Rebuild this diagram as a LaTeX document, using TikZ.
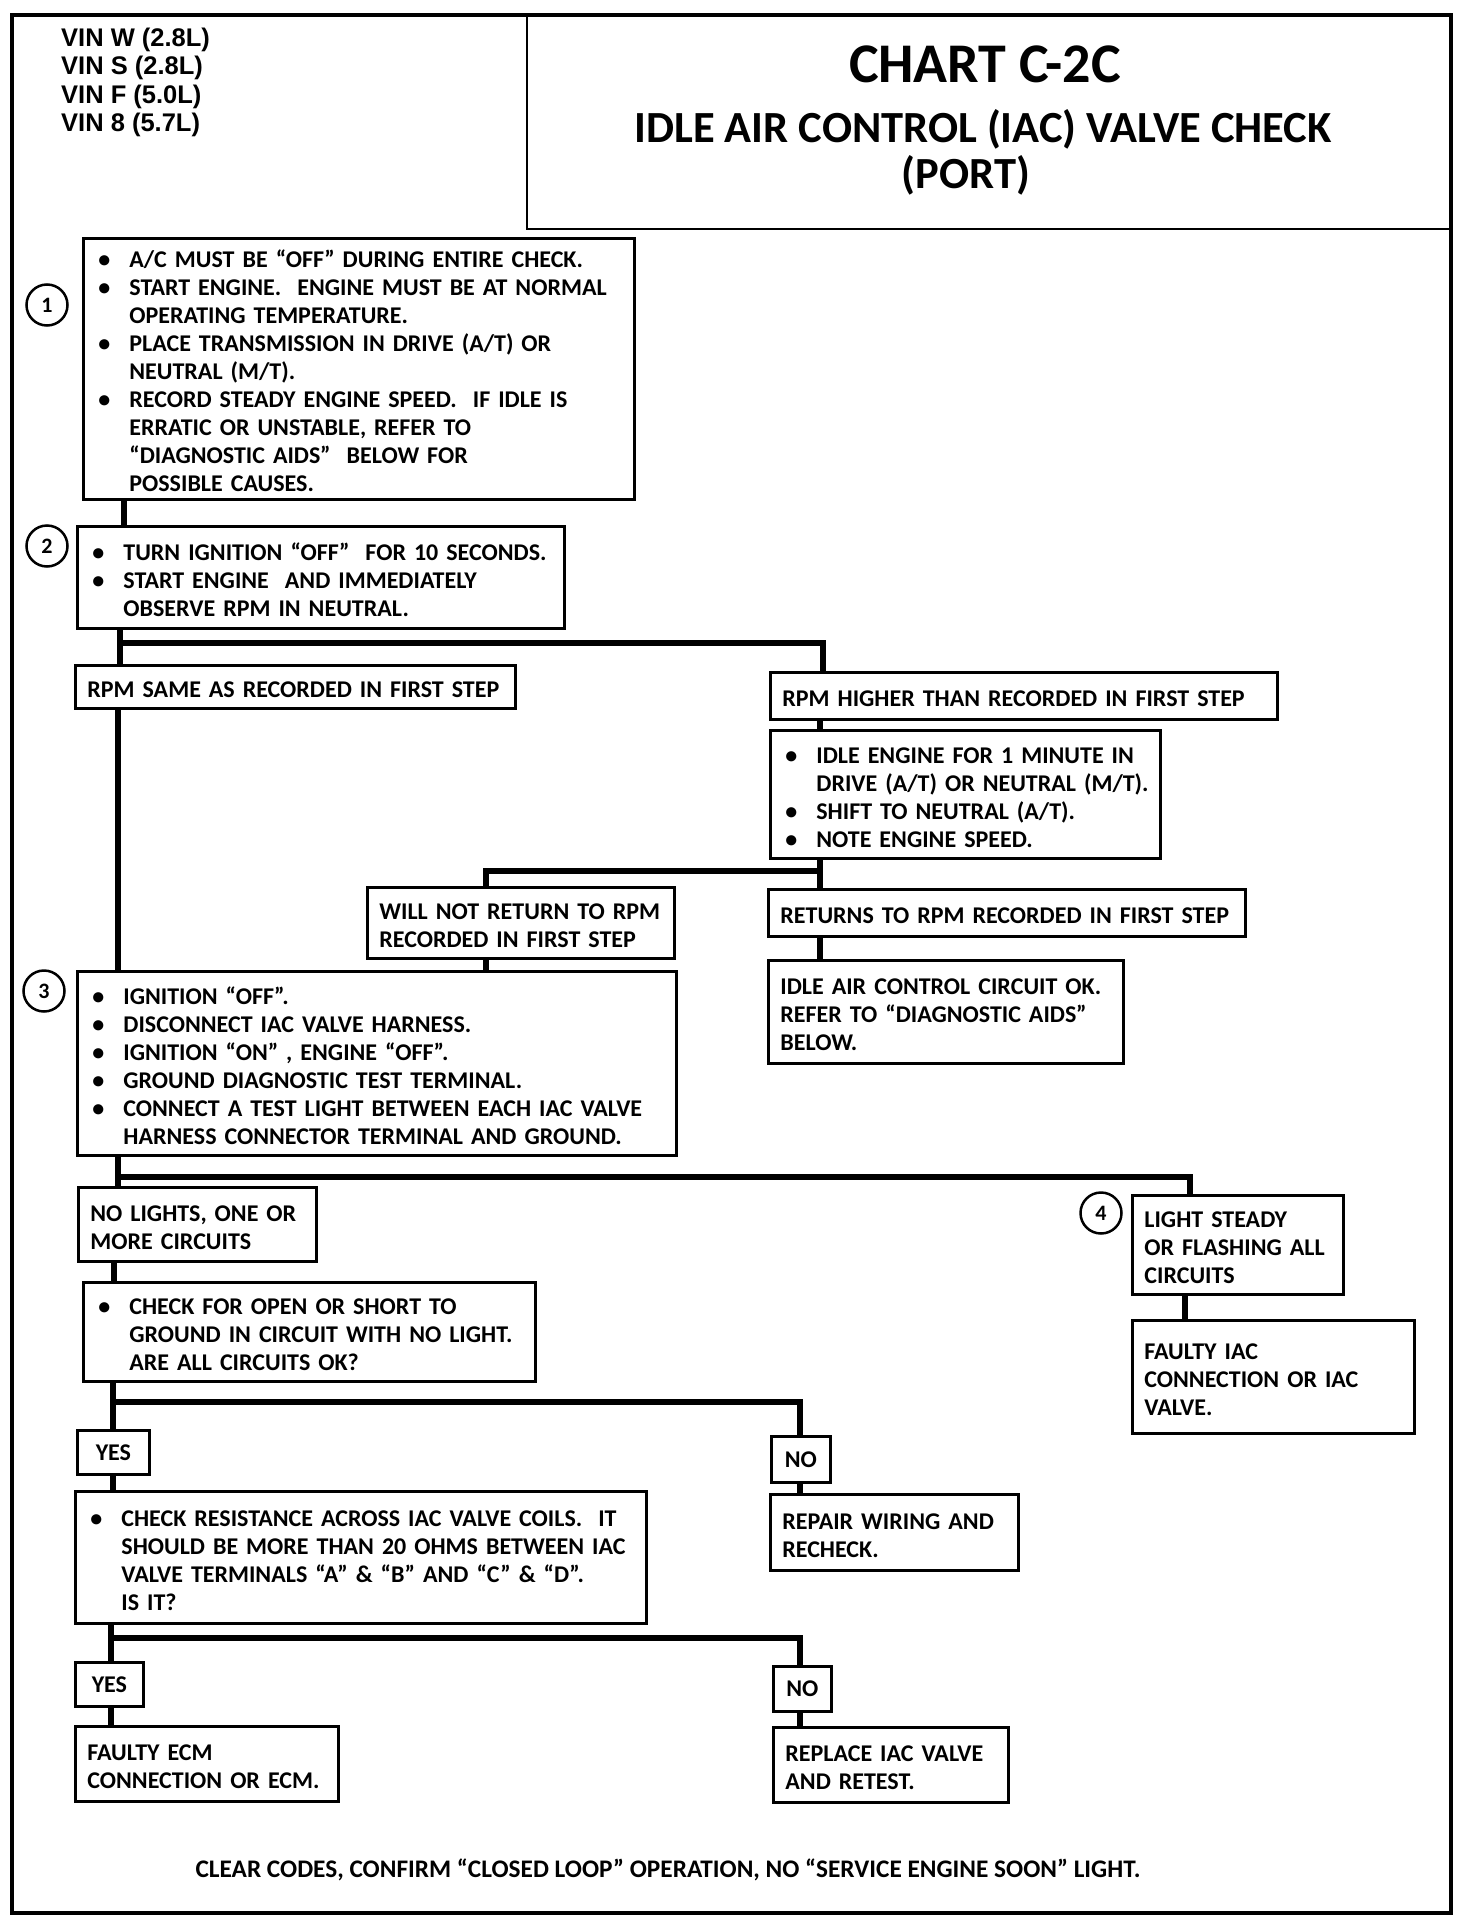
\documentclass[tikz,border=0pt]{standalone}
\usepackage{fontspec}
\setmainfont{Carlito}
\newfontfamily\vinf{Liberation Sans}
\newcommand\bodyf{\bfseries\fontsize{24}{28}\selectfont}
\newcommand\numf{\bfseries\fontsize{22}{24}\selectfont}
\newcommand\bi[1]{\mbox{\makebox[34pt][l]{\hspace{3pt}\textbullet}#1}}
\newcommand\ci[1]{\mbox{\hspace*{34pt}#1}}
\newcommand\lne[1]{\mbox{#1}}
\tikzset{
  box/.style={draw, line width=2.8pt, anchor=north west, inner xsep=12pt, inner ysep=0pt, align=left, font=\bodyf,
    execute at begin node={\rule{0pt}{22pt}}},
  cbox/.style={draw, line width=2.8pt, anchor=north west, inner sep=0pt, align=center, font=\bodyf},
  conn/.style={line width=5.5pt},
  bar/.style={line width=6.5pt, line cap=rect},
  num/.style={draw, circle, line width=2.5pt, minimum size=41pt, inner sep=0pt, font=\numf},
  frame/.style={line width=3.5pt},
}
\begin{document}
\begin{tikzpicture}[x=1pt,y=-1pt]
\useasboundingbox (0,0) rectangle (1472,1924);
% frame and header
\draw[frame] (12,15) rectangle (1451,1913);
\draw[line width=2.8pt] (527,15) -- (527,229) -- (1451,229);
\node[anchor=north west, align=left, inner sep=0pt, font=\vinf\bfseries\fontsize{25.5}{28.3}\selectfont] (vin) at (61,28)
  {VIN W (2.8L)\\VIN S (2.8L)\\VIN F (5.0L)\\VIN 8 (5.7L)};
\node[font=\bfseries\fontsize{56}{60}\selectfont] (title) at (985,64) {CHART C-2C};
\node[font=\bfseries\fontsize{44.5}{48}\selectfont] (sub1) at (983,129) {IDLE AIR CONTROL (IAC) VALVE CHECK};
\node[font=\bfseries\fontsize{44.5}{48}\selectfont] (sub2) at (966,175) {(PORT)};

% boxes
\node[box, text width=527pt, minimum height=261pt] (box1) at (82,237) {%
\bi{A/C MUST BE “OFF” DURING ENTIRE CHECK.}\\
\bi{START ENGINE.\ \ ENGINE MUST BE AT NORMAL}\\
\ci{OPERATING TEMPERATURE.}\\
\bi{PLACE TRANSMISSION IN DRIVE (A/T) OR}\\
\ci{NEUTRAL (M/T).}\\
\bi{RECORD STEADY ENGINE SPEED.\ \ IF IDLE IS}\\
\ci{ERRATIC OR UNSTABLE, REFER TO}\\
\ci{“DIAGNOSTIC AIDS”\ \ BELOW\ FOR}\\
\ci{POSSIBLE CAUSES.}};
\node[num] (c1) at (47,305) {1};

\node[box, text width=463pt, minimum height=102pt] (box2) at (76,525) {%
\bi{TURN IGNITION “OFF”\ \ FOR 10 SECONDS.}\\
\bi{START ENGINE\ \ AND IMMEDIATELY}\\
\ci{OBSERVE RPM IN NEUTRAL.}};
\node[num] (c2) at (47,546) {2};

\node[box, text width=416pt, minimum height=43pt] (same) at (74,664) {\lne{RPM SAME AS RECORDED IN FIRST STEP}};
\node[box, text width=483pt, minimum height=47pt] (higher) at (769,671) {\lne{RPM HIGHER THAN RECORDED IN FIRST STEP}};
\node[box, text width=366pt, minimum height=128pt] (idle) at (769,729) {%
\bi{IDLE ENGINE FOR 1 MINUTE\ IN}\\
\ci{DRIVE (A/T) OR NEUTRAL (M/T).}\\
\bi{SHIFT TO NEUTRAL (A/T).}\\
\bi{NOTE ENGINE SPEED.}};
\node[box, text width=283pt, minimum height=71pt] (willnot) at (366,886) {\lne{WILL NOT RETURN TO RPM}\\\lne{RECORDED\ IN FIRST STEP}};
\node[box, text width=453pt, minimum height=47pt] (returns) at (767,888) {\lne{RETURNS TO RPM RECORDED IN FIRST STEP}};
\node[box, text width=331pt, minimum height=103pt] (circok) at (767,959) {\lne{IDLE AIR CONTROL CIRCUIT OK.}\\\lne{REFER TO “DIAGNOSTIC AIDS”}\\\lne{BELOW.}};

\node[box, text width=575pt, minimum height=184pt] (box3) at (76,970) {%
\bi{IGNITION “OFF”.}\\
\bi{DISCONNECT IAC VALVE HARNESS.}\\
\bi{IGNITION “ON” , ENGINE “OFF”.}\\
\bi{GROUND DIAGNOSTIC TEST TERMINAL.}\\
\bi{CONNECT A TEST LIGHT BETWEEN EACH IAC VALVE}\\
\ci{HARNESS CONNECTOR TERMINAL AND GROUND.}};
\node[num] (c3) at (44,991) {3};

\node[box, text width=214pt, minimum height=74pt] (nolights) at (77,1186) {\lne{NO LIGHTS, ONE OR}\\\lne{MORE CIRCUITS}};
\node[box, text width=187pt, minimum height=99pt] (light) at (1131,1194) {\lne{LIGHT\ STEADY}\\\lne{OR FLASHING ALL}\\\lne{CIRCUITS}};
\node[num] (c4) at (1101,1213) {4};
\node[box, text width=258pt, minimum height=113pt] (faulty) at (1131,1319) {\lne{FAULTY IAC}\\\lne{CONNECTION OR IAC}\\\lne{VALVE.}};

\node[box, text width=428pt, minimum height=99pt] (check) at (82,1281) {%
\bi{CHECK FOR OPEN OR SHORT TO}\\
\ci{GROUND IN CIRCUIT WITH NO LIGHT.}\\
\ci{ARE ALL CIRCUITS OK?}};

\node[cbox, minimum width=72pt, minimum height=44pt] (yes1) at (76,1429) {YES};
\node[cbox, minimum width=59pt, minimum height=46pt] (no1) at (770,1435) {NO};
\node[box, text width=224pt, minimum height=76pt] (repair) at (769,1493) {\lne{REPAIR WIRING AND}\\\lne{RECHECK.}};
\node[box, text width=547pt, minimum height=132pt] (resist) at (74,1490) {%
\bi{CHECK RESISTANCE ACROSS IAC VALVE COILS.\ \ IT}\\
\ci{SHOULD BE MORE THAN 20 OHMS BETWEEN IAC}\\
\ci{VALVE TERMINALS “A” \& “B” AND “C” \& “D”.}\\
\ci{IS IT?}};

\node[cbox, minimum width=68pt, minimum height=44pt] (yes2) at (74,1661) {YES};
\node[cbox, minimum width=58pt, minimum height=45pt] (no2) at (772,1665) {NO};
\node[box, text width=239pt, minimum height=75pt] (ecm) at (74,1725) {\lne{FAULTY ECM}\\\lne{CONNECTION OR ECM.}};
\node[box, text width=211pt, minimum height=75pt] (replace) at (772,1726) {\lne{REPLACE IAC VALVE}\\\lne{AND RETEST.}};

\node[font=\bfseries\fontsize{25.3}{28}\selectfont] (foot) at (668,1870) {CLEAR CODES, CONFIRM “CLOSED LOOP” OPERATION, NO “SERVICE ENGINE SOON” LIGHT.};

% connectors
\coordinate (x1) at (124,0);
\draw[conn] (box1.south -| x1) -- (box2.north -| x1);
\coordinate (j1) at (120,643);
\coordinate (j1r) at (823,643);
\draw[conn] (box2.south -| j1) -- (same.north -| j1);
\draw[bar] (j1) -- (j1r);
\draw[conn] (j1r) -- (higher.north -| j1r);
\coordinate (x2) at (118,0);
\draw[conn] (same.south -| x2) -- (box3.north -| x2);
\coordinate (x3) at (820,0);
\draw[conn] (higher.south -| x3) -- (idle.north -| x3);
\coordinate (j2) at (820,871);
\coordinate (j2l) at (486,871);
\draw[conn] (idle.south -| j2) -- (returns.north -| j2);
\draw[bar] (j2) -- (j2l);
\draw[conn] (j2l) -- (willnot.north -| j2l);
\draw[conn] (willnot.south -| j2l) -- (box3.north -| j2l);
\draw[conn] (returns.south -| j2) -- (circok.north -| j2);
\coordinate (j3) at (118,1177);
\coordinate (j3r) at (1190,1177);
\draw[conn] (box3.south -| j3) -- (nolights.north -| j3);
\draw[bar] (j3) -- (j3r);
\draw[conn] (j3r) -- (light.north -| j3r);
\coordinate (x4) at (1185,0);
\draw[conn] (light.south -| x4) -- (faulty.north -| x4);
\coordinate (x5) at (114,0);
\draw[conn] (nolights.south -| x5) -- (check.north -| x5);
\coordinate (j4) at (113,1402);
\coordinate (j4r) at (800,1402);
\draw[conn] (check.south -| j4) -- (yes1.north -| j4);
\draw[bar] (j4) -- (j4r);
\draw[conn] (j4r) -- (no1.north -| j4r);
\draw[conn] (yes1.south -| j4) -- (resist.north -| j4);
\draw[conn] (no1.south -| j4r) -- (repair.north -| j4r);
\coordinate (j5) at (111,1638);
\coordinate (j5r) at (800,1638);
\draw[conn] (resist.south -| j5) -- (yes2.north -| j5);
\draw[bar] (j5) -- (j5r);
\draw[conn] (j5r) -- (no2.north -| j5r);
\draw[conn] (yes2.south -| j5) -- (ecm.north -| j5);
\draw[conn] (no2.south -| j5r) -- (replace.north -| j5r);
\end{tikzpicture}
\end{document}
